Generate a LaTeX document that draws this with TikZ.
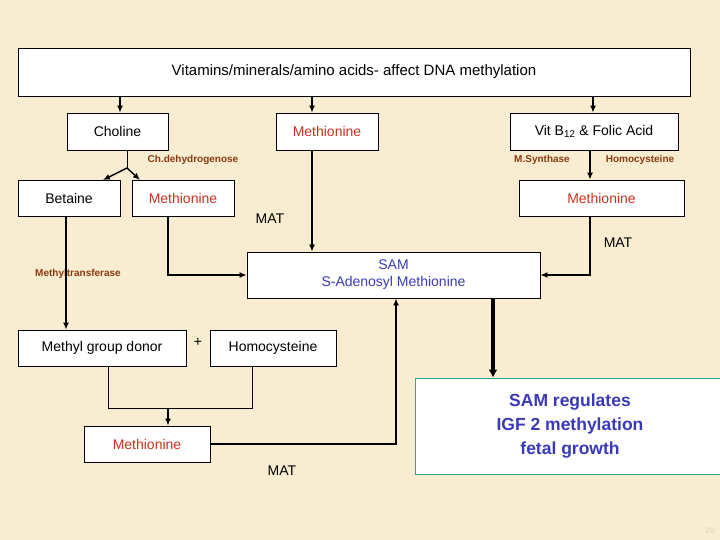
\documentclass[tikz,border=0pt]{standalone}
\usepackage{fontspec}
\setmainfont{Liberation Sans}
\usetikzlibrary{arrows.meta}
\definecolor{bg}{HTML}{F8EDD0}
\definecolor{red1}{HTML}{C8321E}
\definecolor{brn}{HTML}{8B3A10}
\definecolor{blu}{HTML}{3A3AB8}
\definecolor{teal1}{HTML}{3AA08A}
\begin{document}
\begin{tikzpicture}[x=1pt,y=-1pt,
  box/.style={draw,fill=white,line width=0.8pt,inner sep=0pt},
  ar/.style={line width=1.4pt,-{Latex[length=7pt,width=6pt]}},
  ln/.style={line width=1pt},
  tx/.style={font=\fontsize{14}{17}\selectfont},
  sm/.style={font=\fontsize{10}{12}\selectfont\bfseries,text=brn}]
\fill[bg] (0,0) rectangle (720,540);
\useasboundingbox (0,0) rectangle (720,540);
\node[box,minimum width=672pt,minimum height=48pt,font=\fontsize{15}{18}\selectfont] (top) at (354,72) {Vitamins/minerals/amino acids- affect DNA methylation};
\node[box,minimum width=101pt,minimum height=37pt,tx] (chol) at (117.5,131.5) {Choline};
\node[box,minimum width=102pt,minimum height=37pt,tx,text=red1] (met1) at (327,131.5) {Methionine};
\node[box,minimum width=168pt,minimum height=37pt,tx] (vit) at (594,131.5) {Vit B\textsubscript{12} \& Folic Acid};
\node[box,minimum width=102pt,minimum height=36pt,tx] (bet) at (69,198) {Betaine};
\node[box,minimum width=102pt,minimum height=36pt,tx,text=red1] (met2) at (183,198) {Methionine};
\node[box,minimum width=165pt,minimum height=36pt,tx,text=red1] (met3) at (601.5,198) {Methionine};
\node[box,minimum width=293pt,minimum height=46pt,tx,text=blu,align=center] (sam) at (393.5,275) {SAM\\S-Adenosyl Methionine};
\node[box,minimum width=168pt,minimum height=36pt,tx] (mgd) at (102,348) {Methyl group donor};
\node[box,minimum width=126pt,minimum height=36pt,tx] (hcy) at (273,348) {Homocysteine};
\node[box,minimum width=126pt,minimum height=36pt,tx,text=red1] (met4) at (147,444) {Methionine};
\node[draw=teal1,fill=white,line width=0.8pt,minimum width=310pt,minimum height=96pt,font=\fontsize{17.5}{24}\selectfont\bfseries,text=blu,align=center,inner sep=0pt] (reg) at (570,426) {SAM regulates\\IGF 2 methylation\\fetal growth};
\node[tx] (plus) at (198,342) {+};
\node[sm] (chd) at (193,160) {Ch.dehydrogenose};
\node[sm] (msy) at (542,160) {M.Synthase};
\node[sm] (hc2) at (640,160) {Homocysteine};
\node[sm] (mtr) at (78,274) {Methyltransferase};
\node[tx] (mat1) at (270,219) {MAT};
\node[tx] (mat2) at (618,243) {MAT};
\node[tx] (mat3) at (282,471) {MAT};
\node[font=\fontsize{8}{9}\selectfont,text=brn!25] (pg) at (710,531) {29};
\coordinate (f) at (127,168);
\draw[ar] (120,96) -- (chol.north -| 120,0);
\draw[ar] (312,96) -- (met1.north -| 312,0);
\draw[ar] (593,96) -- (vit.north -| 593,0);
\draw[ln] (chol.south -| f) -- (f);
\draw[ar] (f) -- (103,180);
\draw[ar] (f) -- (140,180);
\draw[ar] (vit.south -| 590,0) -- (met3.north -| 590,0);
\draw[ar] (met1.south -| 312,0) -- (sam.north -| 312,0);
\draw[ar] (met2.south -| 168,0) |- (sam.west);
\draw[ar] (met3.south -| 590,0) |- (sam.east);
\draw[ar] (bet.south -| 66,0) -- (mgd.north -| 66,0);
\draw[ln] (mgd.south -| 108,0) |- (252,408) -- (hcy.south -| 252,0);
\draw[ar] (168,408) -- (met4.north -| 168,0);
\draw[ar] (met4.east) -| (sam.south -| 396,0);
\draw[line width=4pt,-{Latex[length=8pt,width=9pt]}] (sam.south -| 493,0) -- (reg.north -| 493,0);
\end{tikzpicture}
\end{document}
